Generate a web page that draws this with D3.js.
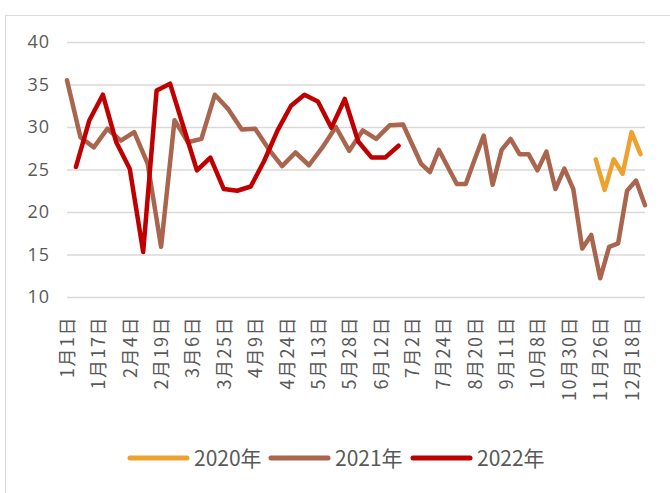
<!DOCTYPE html>
<html>
<head>
<meta charset="utf-8">
<script src="https://cdn.jsdelivr.net/npm/d3@7/dist/d3.min.js"></script>
<style>
  body { margin: 0; background: #fff; }
  text { font-family: "Noto Sans CJK SC", "Noto Sans", sans-serif; fill: #595959; }
</style>
</head>
<body>
<div id="chart"></div>
<script>
// Category axis: 130 dates (union of the three years' sampling dates), only every 7th labelled.
var categoryCount = 130;
var tickLabels = ["1月1日", "1月17日", "2月4日", "2月19日", "3月6日", "3月25日", "4月9日",
  "4月24日", "5月13日", "5月28日", "6月12日", "7月2日", "7月24日", "8月20日", "9月11日",
  "10月8日", "10月30日", "11月26日", "12月18日"];
var yTicks = [10, 15, 20, 25, 30, 35, 40];

// [category index, value]
var values2020 = [[118, 26.2], [120, 22.6], [122, 26.2], [124, 24.5], [126, 29.4], [128, 26.8]];

var values2021 = [[0, 35.5], [3, 28.8], [6, 27.6], [9, 29.8], [12, 28.4], [15, 29.4], [18, 25.7],
  [21, 15.9], [24, 30.8], [27, 28.2], [30, 28.6], [33, 33.8], [36, 32.1], [39, 29.7], [42, 29.8],
  [45, 27.4], [48, 25.4], [51, 27.0], [54, 25.5], [57, 27.6], [60, 30.0], [63, 27.2], [66, 29.6],
  [69, 28.6], [72, 30.2], [75, 30.3], [77, 28.0], [79, 25.7], [81, 24.7], [83, 27.3], [85, 25.3],
  [87, 23.3], [89, 23.3], [91, 26.2], [93, 29.0], [95, 23.2], [97, 27.3], [99, 28.6], [101, 26.8],
  [103, 26.8], [105, 24.9], [107, 27.1], [109, 22.7], [111, 25.1], [113, 22.7], [115, 15.7],
  [117, 17.3], [119, 12.2], [121, 15.9], [123, 16.3], [125, 22.5], [127, 23.7], [129, 20.8]];

var values2022 = [[2, 25.3], [5, 30.8], [8, 33.8], [11, 28.2], [14, 25.1], [17, 15.3], [20, 34.3],
  [23, 35.1], [26, 30.0], [29, 24.9], [32, 26.4], [35, 22.7], [38, 22.5], [41, 23.0], [44, 26.0],
  [47, 29.6], [50, 32.5], [53, 33.8], [56, 33.0], [59, 29.9], [62, 33.3], [65, 28.3], [68, 26.4],
  [71, 26.4], [74, 27.8]];

var seriesNames = ["2020年", "2021年", "2022年"];
var seriesColors = ["#EFA130", "#A9654D", "#C00000"];
var seriesValues = [values2020, values2021, values2022];

var width = 670, height = 493;
var margin = {top: 42, right: 25, bottom: 196, left: 67};

var svg = d3.select("#chart").append("svg")
  .attr("width", width)
  .attr("height", height);

// chart area border
svg.append("rect")
  .attr("x", 5.5).attr("y", 15.5)
  .attr("width", 700).attr("height", 500)
  .attr("fill", "none").attr("stroke", "#d9d9d9");

var x = d3.scaleLinear()
  .domain([0, categoryCount - 1])
  .range([margin.left, width - margin.right]);

var y = d3.scaleLinear()
  .domain([10, 40])
  .range([height - margin.bottom, margin.top]);

// Gridlines + Y labels
var yAxis = svg.append("g")
  .attr("transform", "translate(" + margin.left + ",0)")
  .call(d3.axisLeft(y).tickValues(yTicks).tickSize(-(width - margin.left - margin.right)).tickPadding(17));
yAxis.select(".domain").remove();
yAxis.selectAll(".tick line").attr("stroke", "#d9d9d9").attr("stroke-width", 1.3);
yAxis.selectAll(".tick text")
  .style("font-size", "18px")
  .style("letter-spacing", "1px")
  .style("font-family", "'Open Sans', sans-serif");

// X labels
var xAxis = svg.append("g")
  .attr("transform", "translate(0," + y(10) + ")")
  .call(d3.axisBottom(x)
    .tickValues(tickLabels.map(function(d, i) { return i * 7; }))
    .tickFormat(function(d, i) { return tickLabels[i]; })
    .tickSize(0));
xAxis.select(".domain").remove();
xAxis.selectAll(".tick text")
  .attr("transform", "rotate(-90)")
  .attr("x", -19)
  .attr("y", 0)
  .attr("dy", "0.36em")
  .style("text-anchor", "end")
  .style("font-size", "18px")
  .style("letter-spacing", "1.5px");

// Lines
var line = d3.line()
  .x(function(d) { return x(d[0]); })
  .y(function(d) { return y(d[1]); });

svg.selectAll(".series")
  .data(seriesValues)
  .enter()
  .append("path")
  .attr("class", "series")
  .attr("d", line)
  .attr("fill", "none")
  .attr("stroke", function(d, i) { return seriesColors[i]; })
  .attr("stroke-width", 4.5)
  .attr("stroke-linejoin", "round")
  .attr("stroke-linecap", "round");

// Legend
var legendX = [130, 271, 413];
var legend = svg.selectAll(".legend")
  .data(seriesNames)
  .enter()
  .append("g")
  .attr("class", "legend")
  .attr("transform", function(d, i) { return "translate(" + legendX[i] + ",458)"; });

legend.append("line")
  .attr("x1", 0).attr("x2", 57)
  .attr("stroke", function(d, i) { return seriesColors[i]; })
  .attr("stroke-width", 5)
  .attr("stroke-linecap", "round");

legend.append("text")
  .attr("x", 64)
  .attr("dy", "0.36em")
  .style("font-size", "21px")
  .text(function(d) { return d; });
</script>
</body>
</html>
